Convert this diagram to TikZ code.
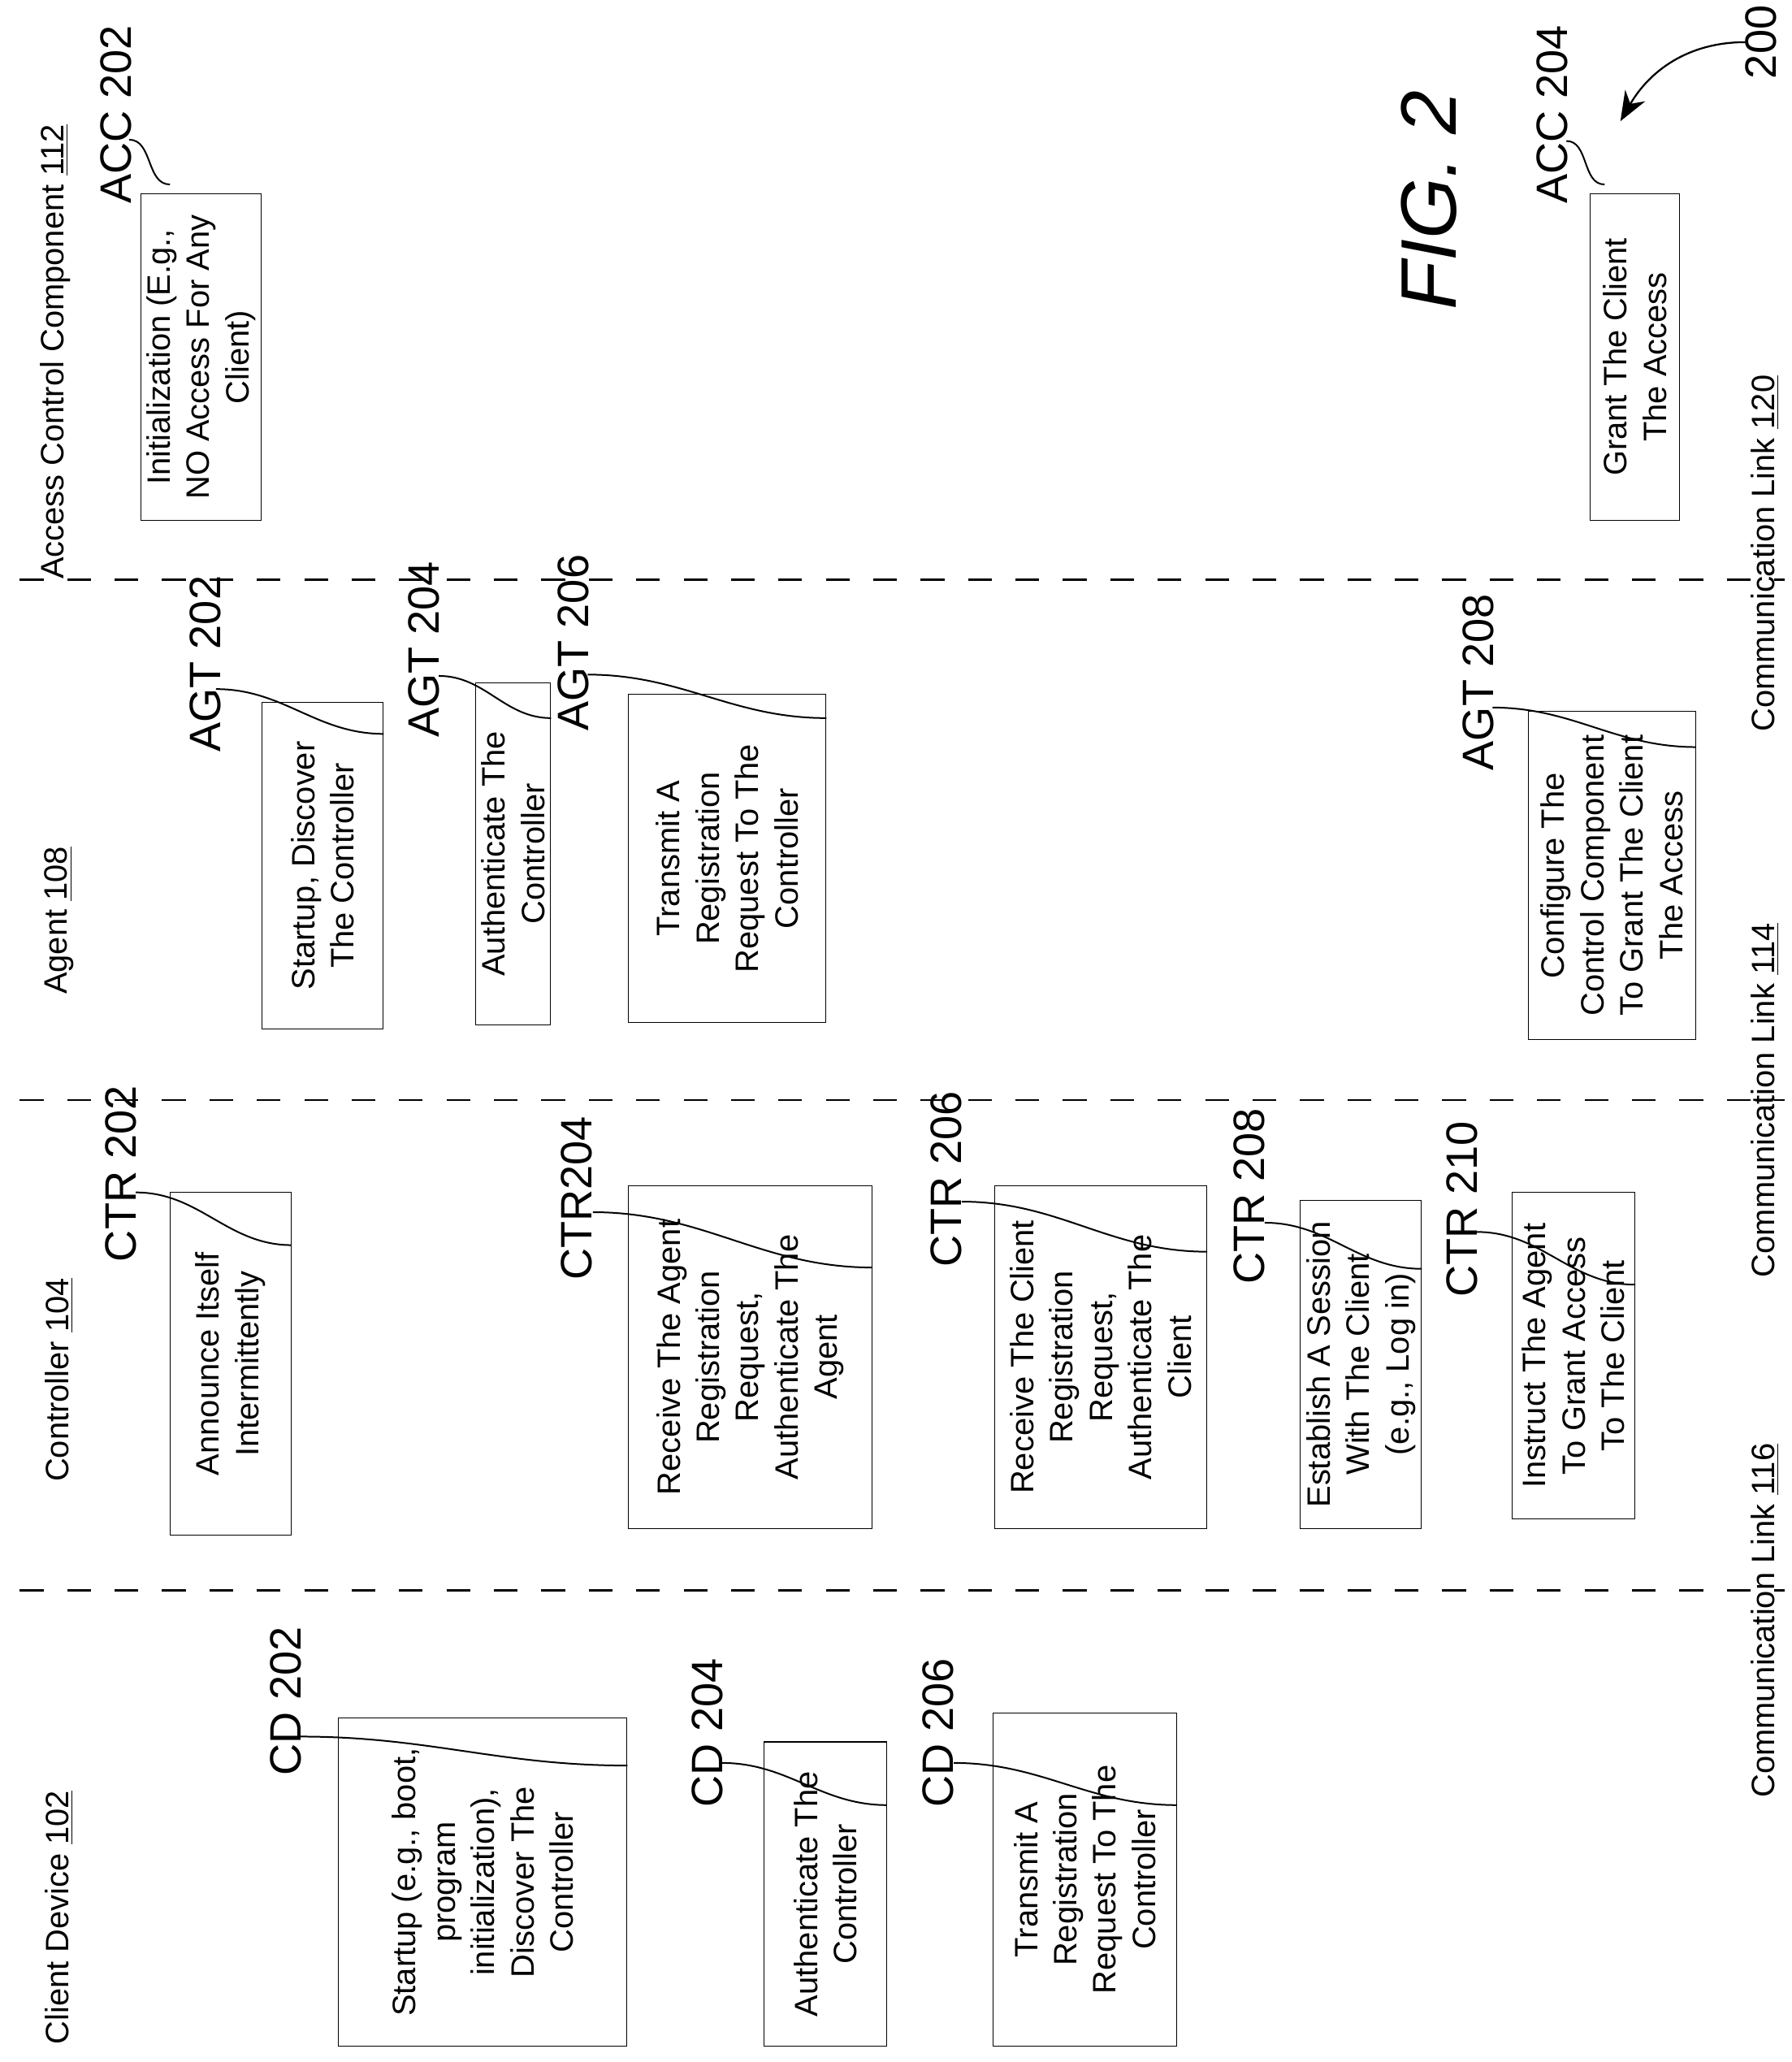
\documentclass[tikz,border=0pt]{standalone}
\usepackage{fontspec}
\setmainfont{Liberation Sans}
\usetikzlibrary{arrows.meta}
\tikzset{
  stepbox/.style={draw, rotate=90, align=center, inner sep=0pt, font=\fontsize{14}{17}\selectfont},
  reflabel/.style={rotate=90, anchor=west, inner sep=0pt, font=\fontsize{19}{21}\selectfont},
  lanelabel/.style={rotate=90, anchor=west, inner sep=0pt, font=\fontsize{14}{17}\selectfont},
  linklabel/.style={rotate=90, inner sep=0pt, font=\fontsize{14}{17}\selectfont},
  hook/.style={line width=0.7pt},
  lane/.style={dashed, dash pattern=on 0.36cm off 0.36cm, line width=0.8pt}
}
\begin{document}
\begin{tikzpicture}[x=0.02cm, y=-0.02cm]
\useasboundingbox (0,0) rectangle (1360,1565);
% lanes
\coordinate (l1a) at (15,440);  \coordinate (l1b) at (1355,440);
\coordinate (l2a) at (15,835);  \coordinate (l2b) at (1355,835);
\coordinate (l3a) at (15,1207); \coordinate (l3b) at (1355,1207);
\draw[lane] (l1a) -- (l1b);
\draw[lane] (l2a) -- (l2b);
\draw[lane] (l3a) -- (l3b);
\node[lanelabel] (accname) at (42,440) {Access Control Component \underline{112}};
\node[lanelabel] (agtname) at (45,755) {Agent \underline{108}};
\node[lanelabel] (ctrname) at (45,1125) {Controller \underline{104}};
\node[lanelabel] (cdname) at (45,1552) {Client Device \underline{102}};
\node[linklabel] (link120) at (1340,420) {Communication Link \underline{120}};
\node[linklabel] (link114) at (1340,835) {Communication Link \underline{114}};
\node[linklabel] (link116) at (1340,1230) {Communication Link \underline{116}};
% access control component
\node[stepbox, minimum width=4.96cm, minimum height=1.82cm] (acc202) at (152.5,271) {Initialization (E.g.,\\NO Access For Any\\Client)};
\node[stepbox, minimum width=4.96cm, minimum height=1.36cm] (acc204) at (1241,271) {Grant The Client\\The Access};
% agent
\node[stepbox, minimum width=4.96cm, minimum height=1.84cm] (agt202) at (245,657) {Startup, Discover\\The Controller};
\node[stepbox, minimum width=5.2cm, minimum height=1.14cm] (agt204) at (389.5,648) {Authenticate The\\Controller};
\node[stepbox, minimum width=4.98cm, minimum height=3.0cm] (agt206) at (552,651.5) {Transmit A\\Registration\\Request To The\\Controller};
\node[stepbox, minimum width=4.98cm, minimum height=2.54cm] (agt208) at (1223.5,664.5) {Configure The\\Control Component\\To Grant The Client\\The Access};
% controller
\node[stepbox, minimum width=5.2cm, minimum height=1.84cm] (ctr202) at (175,1035) {Announce Itself\\Intermittently};
\node[stepbox, minimum width=5.2cm, minimum height=3.7cm] (ctr204) at (569.5,1030) {Receive The Agent\\Registration\\Request,\\Authenticate The\\Agent};
\node[stepbox, minimum width=5.2cm, minimum height=3.22cm] (ctr206) at (835.5,1030) {Receive The Client\\Registration\\Request,\\Authenticate The\\Client};
\node[stepbox, minimum width=4.98cm, minimum height=1.84cm] (ctr208) at (1033,1035.5) {Establish A Session\\With The Client\\(e.g., Log in)};
\node[stepbox, minimum width=4.96cm, minimum height=1.86cm] (ctr210) at (1194.5,1029) {Instruct The Agent\\To Grant Access\\To The Client};
% client device
\node[stepbox, minimum width=4.98cm, minimum height=4.38cm] (cd202) at (366.5,1428.5) {Startup (e.g., boot,\\program\\initialization),\\Discover The\\Controller};
\node[stepbox, minimum width=4.62cm, minimum height=1.86cm] (cd204) at (626.5,1437.5) {Authenticate The\\Controller};
\node[stepbox, minimum width=5.06cm, minimum height=2.78cm] (cd206) at (823.5,1426.5) {Transmit A\\Registration\\Request To The\\Controller};
% reference labels
\node[reflabel] (acc202l) at (88,155) {ACC 202};
\node[reflabel] (acc204l) at (1178,155) {ACC 204};
\node[reflabel] (agt202l) at (156,571) {AGT 202};
\node[reflabel] (agt204l) at (322,560) {AGT 204};
\node[reflabel] (agt206l) at (435,555) {AGT 206};
\node[reflabel] (agt208l) at (1122,585) {AGT 208};
\node[reflabel] (ctr202l) at (92,958) {CTR 202};
\node[reflabel] (ctr204l) at (438,972) {CTR204};
\node[reflabel] (ctr206l) at (718,962) {CTR 206};
\node[reflabel] (ctr208l) at (948,975) {CTR 208};
\node[reflabel] (ctr210l) at (1110,985) {CTR 210};
\node[reflabel] (cd202l) at (217,1348) {CD 202};
\node[reflabel] (cd204l) at (537,1372) {CD 204};
\node[reflabel] (cd206l) at (712,1372) {CD 206};
\draw[hook] (98,106) to[out=0,in=180] (129,140);
\draw[hook] (1189,107) to[out=0,in=180] (1218,140);
\draw[hook] (164,523) to[out=0,in=180] (agt202.south east |- 0,557);
\draw[hook] (333,513) to[out=0,in=180] (agt204.south east |- 0,545);
\draw[hook] (446,512) to[out=0,in=180] (agt206.south east |- 0,545);
\draw[hook] (1133,537) to[out=0,in=180] (agt208.south east |- 0,567);
\draw[hook] (103,905) to[out=0,in=180] (ctr202.south east |- 0,945);
\draw[hook] (450,920) to[out=0,in=180] (ctr204.south east |- 0,962);
\draw[hook] (730,912) to[out=0,in=180] (ctr206.south east |- 0,950);
\draw[hook] (960,928) to[out=0,in=180] (ctr208.south east |- 0,963);
\draw[hook] (1121,935) to[out=0,in=180] (ctr210.south east |- 0,975);
\draw[hook] (228,1318) to[out=0,in=180] (cd202.south east |- 0,1340);
\draw[hook] (548,1338) to[out=0,in=180] (cd204.south east |- 0,1370);
\draw[hook] (724,1338) to[out=0,in=180] (cd206.south east |- 0,1370);
% figure label
\node[rotate=90, font=\fontsize{34}{36}\selectfont\itshape] (fig) at (1085,152) {FIG. 2};
\node[reflabel, anchor=center] (ref200) at (1337,32) {200};
\draw[line width=0.8pt, -{Stealth[length=0.45cm, width=0.35cm]}] (ref200.north) to[out=180,in=60] (1230,92);
\end{tikzpicture}
\end{document}
